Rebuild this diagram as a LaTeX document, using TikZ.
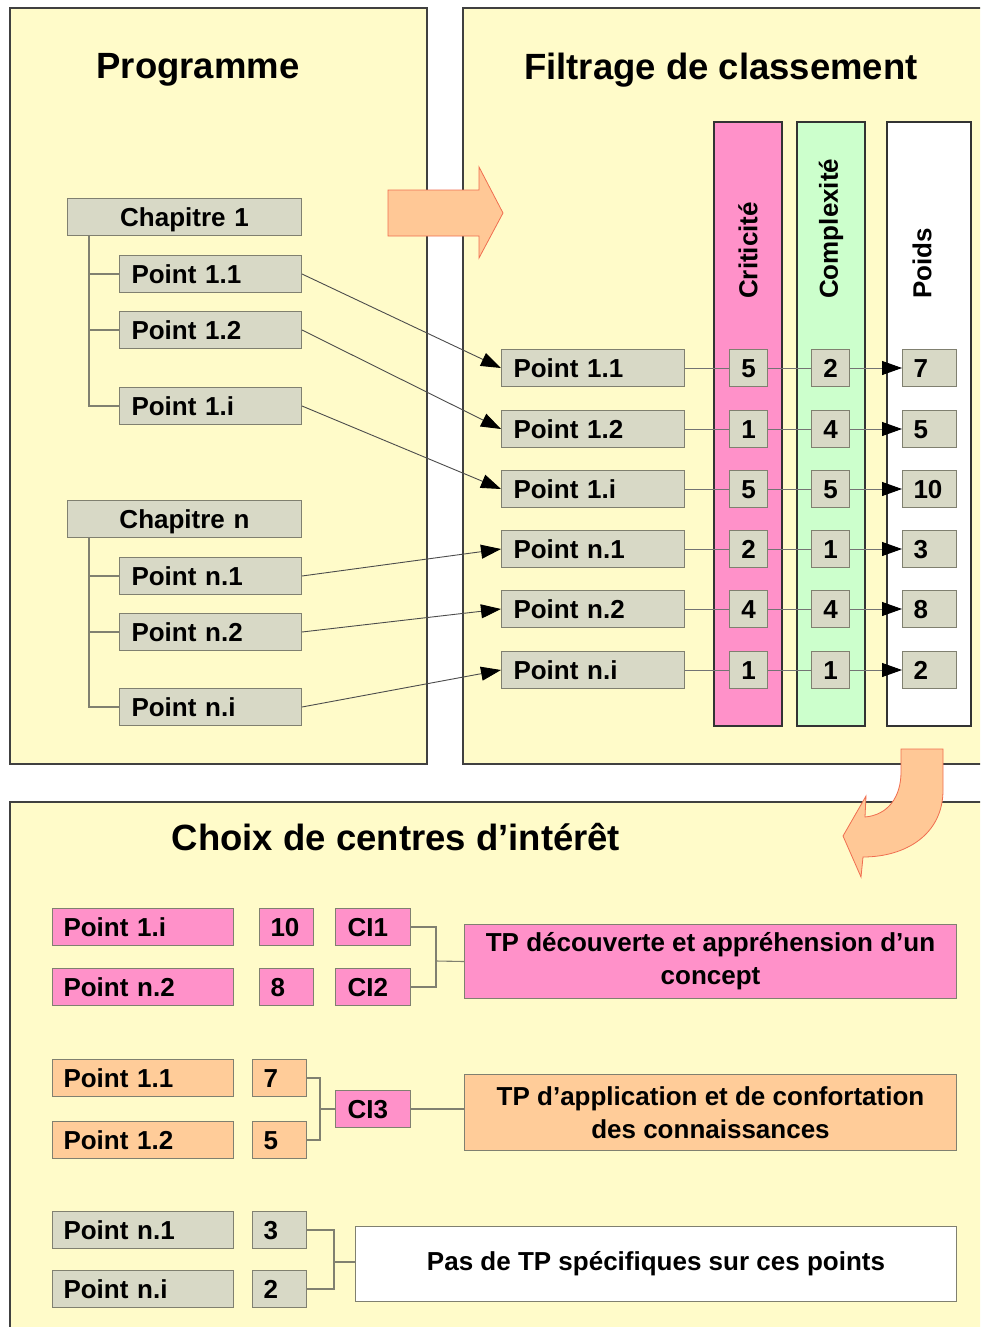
\documentclass[tikz,border=0pt]{standalone}
\usepackage{fontspec}
\setmainfont{Liberation Sans}
\usetikzlibrary{arrows.meta}
\definecolor{bgyellow}{RGB}{255,251,201}
\definecolor{boxgray}{RGB}{216,217,198}
\definecolor{boxedge}{RGB}{128,128,112}
\definecolor{pinkc}{RGB}{255,145,201}
\definecolor{greenc}{RGB}{204,255,204}
\definecolor{orangec}{RGB}{255,204,153}
\definecolor{arrowfill}{RGB}{255,200,150}
\definecolor{arrowedge}{RGB}{240,110,80}
\begin{document}
\begin{tikzpicture}[x=1pt,y=-1pt,
  font=\bfseries\fontsize{26}{33}\selectfont,
  panel/.style={draw=black!75, line width=1.6pt, fill=bgyellow},
  title/.style={font=\bfseries\fontsize{36.5}{40}\selectfont, inner sep=0pt, anchor=base},
  col/.style={draw=black!80, line width=1.6pt},
  bigarrow/.style={draw=arrowedge, line width=0.8pt, fill=arrowfill},
  box/.style={draw=boxedge, line width=1pt, minimum height=37pt, inner ysep=0pt,
    text height=18.7pt, text depth=0pt, anchor=north west, align=left, fill=boxgray},
  ptbox/.style={box, text width=158pt, inner xsep=12pt},
  chbox/.style={box, text width=210pt, inner xsep=12pt, align=center},
  midbox/.style={box, text width=159pt, inner xsep=12pt},
  cbox/.style={box, text width=16pt, inner xsep=11pt, align=center},
  wbox/.style={box, text width=32pt, inner xsep=11pt},
  bpt/.style={box, text width=159pt, inner xsep=11pt},
  civ/.style={box, text width=51pt, inner xsep=12pt},
  tpbox/.style={draw=boxedge, line width=1pt, anchor=north west, align=center, inner sep=0pt},
  tree/.style={draw=boxedge, line width=1.2pt},
  conn/.style={draw=black!70, line width=0.9pt},
  hconn/.style={draw=black!55, line width=0.9pt},
  tip/.style={-{Triangle[length=20pt,width=14pt,color=black]}},
  bconn/.style={draw=boxedge, line width=1.1pt}
]
\useasboundingbox (0,0) rectangle (980,1327);
\clip (0,0) rectangle (980,1327);
\fill[white] (0,0) rectangle (980,1327);

% panels
\draw[panel] (10,8) rectangle (427,764);
\draw[panel] (463,8) rectangle (1010,764);
\draw[panel] (10,802) rectangle (1010,1360);

\node[title] (t1) at (198,79) {Programme};
\node[title] (t2) at (721,80) {Filtrage de classement};
\node[title] (t3) at (396,850) {Choix de centres d’intérêt};

% big arrows
\draw[bigarrow] (388,190) -- (479,190) -- (479,167) -- (503,213) -- (479,258) -- (479,236) -- (388,236) -- cycle;
\draw[bigarrow] (901,749) -- (943,749) -- (943,790) .. controls (943,835) and (905,857) .. (863,857)
   -- (861,877) -- (843,836) -- (866,796) -- (865,817) .. controls (888,815) and (901,797) .. (901,772) -- cycle;

% columns
\draw[col, fill=pinkc] (714,122) rectangle (782,726);
\draw[col, fill=greenc] (797,122) rectangle (865,726);
\draw[col, fill=white] (887,122) rectangle (971,726);
\node[rotate=90, anchor=west, inner sep=0pt] (lc) at (748,299) {Criticité};
\node[rotate=90, anchor=west, inner sep=0pt] (lx) at (831,299) {Complexité};
\node[rotate=90, anchor=west, inner sep=0pt] (lp) at (922,299) {Poids};

% left tree
\node[chbox] (c1) at (67,198) {Chapitre 1};
\node[ptbox] (p11) at (119,255) {Point 1.1};
\node[ptbox] (p12) at (119,311) {Point 1.2};
\node[ptbox] (p1i) at (119,387) {Point 1.i};
\node[chbox] (cn) at (67,500) {Chapitre n};
\node[ptbox] (pn1) at (119,557) {Point n.1};
\node[ptbox] (pn2) at (119,613) {Point n.2};
\node[ptbox] (pni) at (119,688) {Point n.i};

\coordinate (v1) at (89,236);
\draw[tree] (v1) |- (p1i.west);
\draw[tree] (v1 |- p11.west) -- (p11.west);
\draw[tree] (v1 |- p12.west) -- (p12.west);
\coordinate (vn) at (89,538);
\draw[tree] (vn) |- (pni.west);
\draw[tree] (vn |- pn1.west) -- (pn1.west);
\draw[tree] (vn |- pn2.west) -- (pn2.west);

% middle rows
\foreach \nm/\lab/\y/\a/\b/\c in {m11/Point 1.1/349/5/2/7, m12/Point 1.2/410/1/4/5, m1i/Point 1.i/470/5/5/10,
   mn1/Point n.1/530/2/1/3, mn2/Point n.2/590/4/4/8, mni/Point n.i/651/1/1/2}{
  \node[midbox] (\nm) at (501,\y) {\lab};
  \node[cbox] (\nm a) at (729,\y) {\a};
  \node[cbox] (\nm b) at (811,\y) {\b};
  \node[wbox] (\nm c) at (902,\y) {\c};
}
\foreach \nm in {m11,m12,m1i,mn1,mn2,mni}{
  \draw[hconn] (\nm.east) -- (\nm a.west);
  \draw[hconn] (\nm a.east) -- (\nm b.west);
  \draw[hconn, tip] (\nm b.east) -- (\nm c.west);
}

% cross connectors
\draw[conn, tip] (p11.east) -- (m11.west);
\draw[conn, tip] (p12.east) -- (m12.west);
\draw[conn, tip] (p1i.east) -- (m1i.west);
\draw[conn, tip] (pn1.east) -- (mn1.west);
\draw[conn, tip] (pn2.east) -- (mn2.west);
\draw[conn, tip] (pni.east) -- (mni.west);

% bottom section
\node[bpt, fill=pinkc] (b1i) at (52,908) {Point 1.i};
\node[bpt, fill=pinkc] (bn2) at (52,968) {Point n.2};
\node[wbox, fill=pinkc] (w10) at (259,908) {10};
\node[wbox, fill=pinkc] (w8) at (259,968) {8};
\node[civ, fill=pinkc] (ci1) at (335,908) {CI1};
\node[civ, fill=pinkc] (ci2) at (335,968) {CI2};
\node[tpbox, fill=pinkc, minimum width=492pt, minimum height=74pt] (tp1) at (464,924)
  {TP découverte et appréhension d’un\\concept};

\node[bpt, fill=orangec] (b11) at (52,1059) {Point 1.1};
\node[bpt, fill=orangec] (b12) at (52,1121) {Point 1.2};
\node[wbox, fill=orangec] (w7) at (252,1059) {7};
\node[wbox, fill=orangec] (w5) at (252,1121) {5};
\node[civ, fill=pinkc] (ci3) at (335,1090) {CI3};
\node[tpbox, fill=orangec, minimum width=492pt, minimum height=76pt] (tp2) at (464,1074)
  {TP d’application et de confortation\\des connaissances};

\node[bpt] (bn1) at (52,1211) {Point n.1};
\node[bpt] (bni) at (52,1270) {Point n.i};
\node[wbox] (w3) at (252,1211) {3};
\node[wbox] (w2) at (252,1270) {2};
\node[tpbox, fill=white, minimum width=601pt, minimum height=75pt] (tp3) at (355,1226)
  {Pas de TP spécifiques sur ces points};

\coordinate (k1) at (436,961);
\draw[bconn] (ci1.east) -| (k1);
\draw[bconn] (ci2.east) -| (k1);
\draw[bconn] (k1) -- (tp1.west);

\coordinate (k2) at (320,1109);
\draw[bconn] (w7.east) -| (k2);
\draw[bconn] (w5.east) -| (k2);
\draw[bconn] (k2) -- (ci3.west);
\draw[bconn] (ci3.east) -- (ci3.east -| tp2.west);

\coordinate (k3) at (334,1262);
\draw[bconn] (w3.east) -| (k3);
\draw[bconn] (w2.east) -| (k3);
\draw[bconn] (k3) -- (k3 -| tp3.west);
\end{tikzpicture}
\end{document}
